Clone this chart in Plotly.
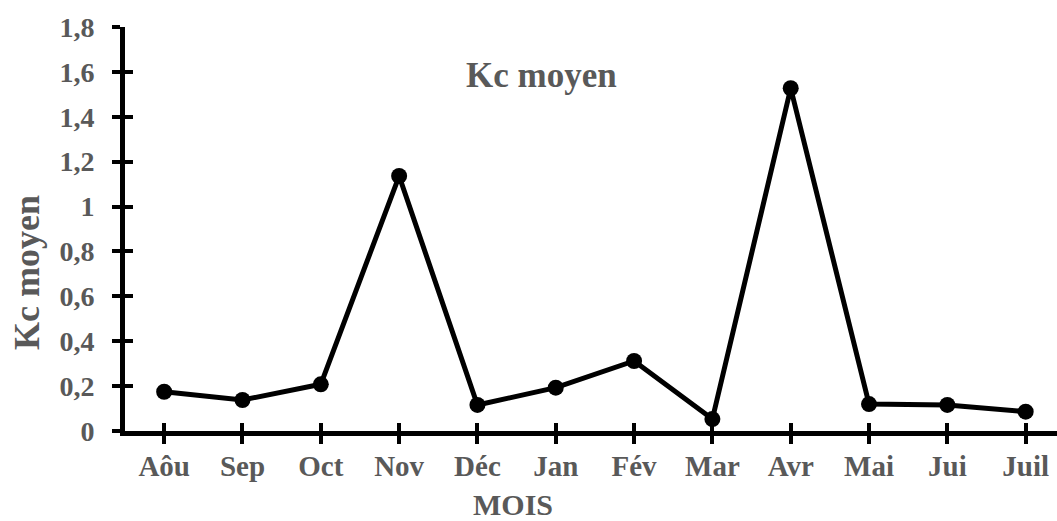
import plotly.graph_objects as go

mois = ["Aôu", "Sep", "Oct", "Nov", "Déc", "Jan", "Fév", "Mar", "Avr", "Mai", "Jui", "Juil"]
kc_moyen = [0.175, 0.138, 0.208, 1.136, 0.116, 0.193, 0.312, 0.053, 1.527, 0.12, 0.116, 0.086]
y_ticks = [0, 0.2, 0.4, 0.6, 0.8, 1.0, 1.2, 1.4, 1.6, 1.8]
y_tick_labels = ["0", "0,2", "0,4", "0,6", "0,8", "1", "1,2", "1,4", "1,6", "1,8"]

FONT = "Liberation Serif"
GRAY = "#595959"
W, H = 1057, 521
L, R, T, B = 125, 0, 27, 90
pw, ph = W - L - R, H - T - B

def px_x(p):
    return (p - L) / pw

def px_y(p):
    return (H - B - p) / ph

xi = list(range(len(mois)))

fig = go.Figure()
fig.add_trace(go.Scatter(
    x=xi, y=kc_moyen, mode="lines+markers",
    line=dict(color="black", width=5),
    marker=dict(color="black", size=16),
    cliponaxis=False, showlegend=False,
))
# invisible twin for inside half of the crossing ticks
fig.add_trace(go.Scatter(
    x=xi, y=kc_moyen, mode="markers", xaxis="x2", yaxis="y2",
    marker=dict(opacity=0), showlegend=False, hoverinfo="skip",
))

xr = [-0.5, 11.4]
fig.update_layout(
    width=W, height=H,
    margin=dict(l=L, r=R, t=T, b=B),
    plot_bgcolor="white", paper_bgcolor="white",
    font=dict(family=FONT, color=GRAY),
    xaxis=dict(
        range=xr, tickmode="array", tickvals=xi, ticktext=mois,
        showgrid=False, zeroline=False,
        showline=True, linecolor="black", linewidth=5,
        ticks="outside", ticklen=8, tickwidth=4, tickcolor="black",
        ticklabelstandoff=-3,
        tickfont=dict(family=FONT, size=29, color=GRAY, weight="bold"),
    ),
    yaxis=dict(
        range=[0, 1.8], tickmode="array", tickvals=y_ticks, ticktext=y_tick_labels,
        showgrid=False, zeroline=False,
        showline=True, linecolor="black", linewidth=5,
        ticks="outside", ticklen=8, tickwidth=4, tickcolor="black",
        ticklabelstandoff=12,
        tickfont=dict(family=FONT, size=28, color=GRAY, weight="bold"),
    ),
    xaxis2=dict(
        range=xr, overlaying="x", anchor="y", tickmode="array", tickvals=xi,
        showticklabels=False, showgrid=False, zeroline=False, showline=False,
        ticks="inside", ticklen=8, tickwidth=4, tickcolor="black", side="bottom",
    ),
    yaxis2=dict(
        range=[0, 1.8], overlaying="y", anchor="x", tickmode="array", tickvals=y_ticks,
        showticklabels=False, showgrid=False, zeroline=False, showline=False,
        ticks="inside", ticklen=8, tickwidth=4, tickcolor="black", side="left",
    ),
    annotations=[
        dict(text="<b>Kc moyen</b>", xref="paper", yref="paper",
             x=px_x(541), y=px_y(75), xanchor="center", yanchor="middle",
             showarrow=False, font=dict(family=FONT, size=35, color=GRAY)),
        dict(text="<b>Kc moyen</b>", xref="paper", yref="paper",
             x=px_x(27), y=px_y(273), xanchor="center", yanchor="middle",
             textangle=-90, showarrow=False, font=dict(family=FONT, size=36, color=GRAY)),
        dict(text="<b>MOIS</b>", xref="paper", yref="paper",
             x=px_x(513), y=px_y(504), xanchor="center", yanchor="middle",
             showarrow=False, font=dict(family=FONT, size=30, color=GRAY)),
    ],
)

fig.write_html(
    "out.html",
    config={"displayModeBar": False},
    post_script="document.body.style.margin='0';document.body.style.overflow='hidden';",
)
